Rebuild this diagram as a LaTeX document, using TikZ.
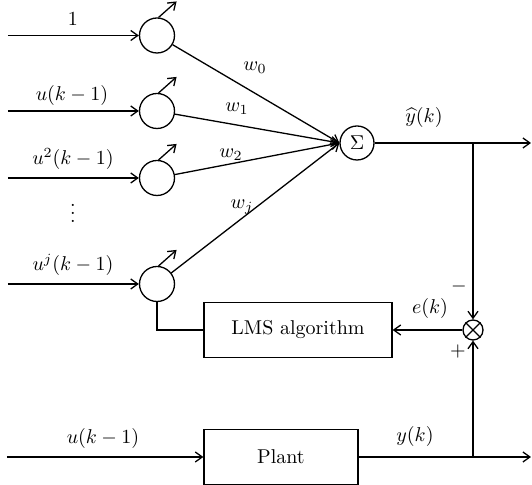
\documentclass[tikz,border=0pt]{standalone}
\usetikzlibrary{arrows.meta}
\begin{document}
\begin{tikzpicture}[x=0.5pt,y=-0.5pt,
  line width=0.65pt,
  arr/.style={-{Straight Barb[length=3.5pt,width=5pt]}},
  neuron/.style={draw,circle,minimum size=17.5pt,inner sep=0pt},
  sumnode/.style={draw,circle,minimum size=17pt,inner sep=0pt},
  cmp/.style={draw,circle,minimum size=10pt,inner sep=0pt},
  blk/.style={draw,rectangle,inner sep=0pt},
  lbl/.style={inner sep=0pt}]
\useasboundingbox (0,0) rectangle (532,485);
% neurons
\node[neuron] (c1) at (157,35.5) {};
\node[neuron] (c2) at (157,111) {};
\node[neuron] (c3) at (157,178) {};
\node[neuron] (c4) at (157,284) {};
\node[sumnode] (sum) at (357,143) {$\Sigma$};
\node[cmp] (x) at (473,330) {};
\draw (x.45) -- (x.225) (x.135) -- (x.315);
\node[blk,minimum width=94pt,minimum height=27.5pt] (lms) at (298,330) {LMS algorithm};
\node[blk,minimum width=77pt,minimum height=27.5pt] (plant) at (281,457) {Plant};
% inputs
\coordinate (in1) at (8,35.5);
\coordinate (in2) at (8,111);
\coordinate (in3) at (8,178);
\coordinate (in4) at (8,284);
\coordinate (in5) at (7,457);
\draw[arr] (in1) -- (c1);
\draw[arr] (in2) -- (c2);
\draw[arr] (in3) -- (c3);
\draw[arr] (in4) -- (c4);
\draw[arr] (in5) -- (plant);
\node[lbl] (l1) at (73,19) {$1$};
\node[lbl] (l2) at (72,96) {$u(k-1)$};
\node[lbl] (l3) at (73,159) {$u^2(k-1)$};
\node[lbl] (dots) at (73,207) {$\vdots$};
\node[lbl] (l4) at (73,265) {$u^j(k-1)$};
\node[lbl] (l5) at (103,439) {$u(k-1)$};
% adjustable arrows
\foreach \c in {c1,c2,c3,c4}{
  \draw[arr] (\c.85) -- ++(18,-16);
}
% weights
\draw[arr] (c1) -- (sum.west);
\draw[arr] (c2) -- (sum.west);
\draw[arr] (c3) -- (sum.west);
\draw[arr] (c4) -- (sum.west);
\node[lbl] (w0) at (255,68) {$w_0$};
\node[lbl] (w1) at (237,109) {$w_1$};
\node[lbl] (w2) at (231,155) {$w_2$};
\node[lbl] (wj) at (242,207) {$w_j$};
% output
\coordinate (out1) at (531,143);
\coordinate (j1) at (473,143);
\draw[arr] (sum) -- (out1);
\node[lbl] (yhat) at (424,118) {$\widehat{y}(k)$};
\draw[arr] (j1) -- (x.north);
\node[lbl] (minus) at (459,287) {$-$};
% plant output
\coordinate (out2) at (531,457);
\coordinate (j2) at (473,457);
\draw[arr] (plant) -- (out2);
\draw[arr] (j2) -- (x.south);
\node[lbl] (plus) at (458,352) {$+$};
\node[lbl] (yk) at (415,437) {$y(k)$};
% error
\draw[arr] (x.west) -- (lms.east);
\node[lbl] (ek) at (430,309) {$e(k)$};
\draw (lms.west) -| (c4.south);
\end{tikzpicture}
\end{document}
